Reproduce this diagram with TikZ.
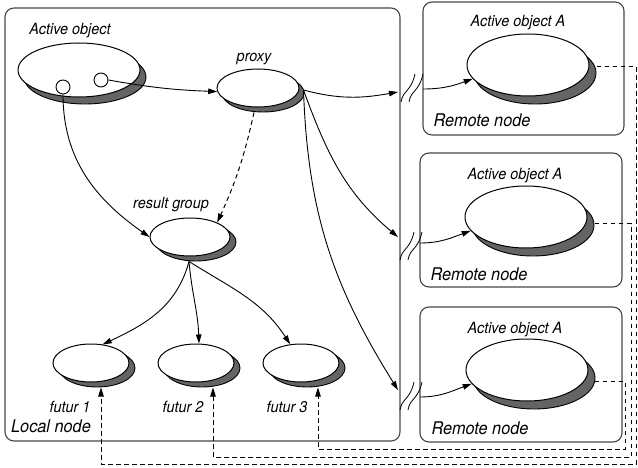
\documentclass[tikz,border=0pt]{standalone}
\usepackage{fontspec}
\setmainfont{TeX Gyre Heros}[FakeStretch=0.93]
\usetikzlibrary{shapes.geometric,shadows,arrows.meta}
\definecolor{sgray}{RGB}{100,100,100}
\definecolor{boxc}{RGB}{70,70,70}
\begin{document}
\begin{tikzpicture}[x=1pt,y=1pt,
  >={Triangle[length=9pt,width=5.5pt]},
  obj/.style={ellipse, draw, fill=white, line width=1pt, inner sep=0pt},
  shd/.style 2 args={drop shadow={shadow xshift=#1, shadow yshift=#2, fill=sgray, draw=black, line width=0.9pt, opacity=1}},
  hole/.style={circle, draw, fill=white, line width=0.9pt, minimum size=14pt, inner sep=0pt},
  region/.style={draw=boxc, line width=1.1pt, rounded corners=9pt, inner sep=0pt},
  lab/.style={anchor=base, inner sep=0pt, font=\fontsize{15.5}{18}\selectfont\itshape},
  biglab/.style={anchor=base, inner sep=0pt, font=\fontsize{17.5}{20}\selectfont\itshape},
  arr/.style={->, line width=0.9pt},
  dsh/.style={->, line width=1pt, dash pattern=on 4.5pt off 3.5pt},
  brk/.style={line width=0.8pt}]
\useasboundingbox (0,0) rectangle (638,-468);

% regions
\node[region, minimum width=395pt, minimum height=433pt] (local) at (202.5,-224.5) {};
\node[region, minimum width=201pt, minimum height=133pt] (rem1) at (523.5,-68.5) {};
\node[region, minimum width=202pt, minimum height=134pt] (rem2) at (521,-220) {};
\node[region, minimum width=202pt, minimum height=135pt] (rem3) at (521,-374.5) {};

% objects
\node[obj, shd={6pt}{-7pt}, minimum width=122pt, minimum height=54pt] (ao) at (79,-70) {};
\node[hole] (c1) at (63,-87) {};
\node[hole] (c2) at (101,-80) {};
\node[obj, shd={5pt}{-5pt}, minimum width=82pt, minimum height=38pt] (proxy) at (258,-88) {};
\node[obj, shd={6pt}{-5pt}, minimum width=80pt, minimum height=38pt] (rg) at (190,-237) {};
\node[obj, shd={6pt}{-5pt}, minimum width=76pt, minimum height=38pt] (f1) at (91,-363) {};
\node[obj, shd={6pt}{-5pt}, minimum width=76pt, minimum height=38pt] (f2) at (196,-363) {};
\node[obj, shd={6pt}{-5pt}, minimum width=76pt, minimum height=38pt] (f3) at (301,-363) {};
\node[obj, shd={7pt}{-8pt}, minimum width=122pt, minimum height=62pt] (ra1) at (528,-65) {};
\node[obj, shd={7pt}{-8pt}, minimum width=122pt, minimum height=62pt] (ra2) at (526,-217) {};
\node[obj, shd={7pt}{-8pt}, minimum width=122pt, minimum height=62pt] (ra3) at (527,-370) {};

% labels
\node[lab] (lao) at (70,-35) {Active object};
\node[lab] (lpx) at (254,-62) {proxy};
\node[lab] (lrg) at (171,-209) {result group};
\node[lab] (lf1) at (70,-412) {futur 1};
\node[lab] (lf2) at (183,-412) {futur 2};
\node[lab] (lf3) at (287,-412) {futur 3};
\node[biglab] (lln) at (51,-432) {Local node};
\node[lab] (la1) at (518,-27) {Active object A};
\node[lab] (la2) at (515,-180) {Active object A};
\node[lab] (la3) at (515,-333) {Active object A};
\node[biglab] (lr1) at (482,-127) {Remote node};
\node[biglab] (lr2) at (479,-280) {Remote node};
\node[biglab] (lr3) at (480,-434) {Remote node};

% connector end points at the local node border
\coordinate (t1) at (398,-92);
\coordinate (t2) at (398,-237);
\coordinate (t3) at (398,-390);
\coordinate (o1) at (423,-89);
\coordinate (o2) at (420,-243);
\coordinate (o3) at (420,-397);

% local connectors
\draw[arr] (c2.east) to[bend right=4] (proxy.185);
\draw[arr] (c1.south) to[out=-90,in=145] (rg.west);
\draw[dsh] ([shift={(-4,-5)}]proxy.south) to[bend left=6] (rg.28);
\draw[arr] ([shift={(-1,-5)}]rg.south) to[out=-105,in=25] (f1.58);
\draw[arr] ([shift={(-1,-5)}]rg.south) to[out=-85,in=92] ([xshift=3pt]f2.north);
\draw[arr] ([shift={(-1,-5)}]rg.south) to[out=-32,in=123] (f3.120);

% proxy to remote nodes
\draw[arr] ([shift={(4,-2)}]proxy.east) to[out=-15,in=190] (t1);
\draw[arr] ([shift={(4,-2)}]proxy.east) to[out=-70,in=140] (t2);
\draw[arr] ([shift={(4,-2)}]proxy.east) to[out=-88,in=122] (t3);
\draw[arr] (o1) to[out=0,in=200] (ra1.194);
\draw[arr] (o2) to[out=0,in=200] (ra2.194);
\draw[arr] (o3) to[out=0,in=200] (ra3.194);

% break marks
\foreach \xm/\ym in {412/-88, 411/-246, 411/-396}{
  \begin{scope}[shift={(\xm,\ym)}]
    \draw[brk] (-11,-14) .. controls (-9,-2) and (-1,-4) .. (3,14);
    \draw[brk] (-3,-14) .. controls (-1,-2) and (7,-4) .. (11,14);
  \end{scope}
}

% reply (dashed) connectors
\draw[dsh] ([shift={(7,-2)}]ra1.east) -| (636,-464) -| ([shift={(10,-5)}]f1.south);
\draw[dsh] ([shift={(7,-7)}]ra2.east) -| (631,-457) -| ([shift={(17,-5)}]f2.south);
\draw[dsh] ([shift={(6,-11)}]ra3.east) -| (625,-449) -| ([shift={(17,-5)}]f3.south);
\end{tikzpicture}
\end{document}
